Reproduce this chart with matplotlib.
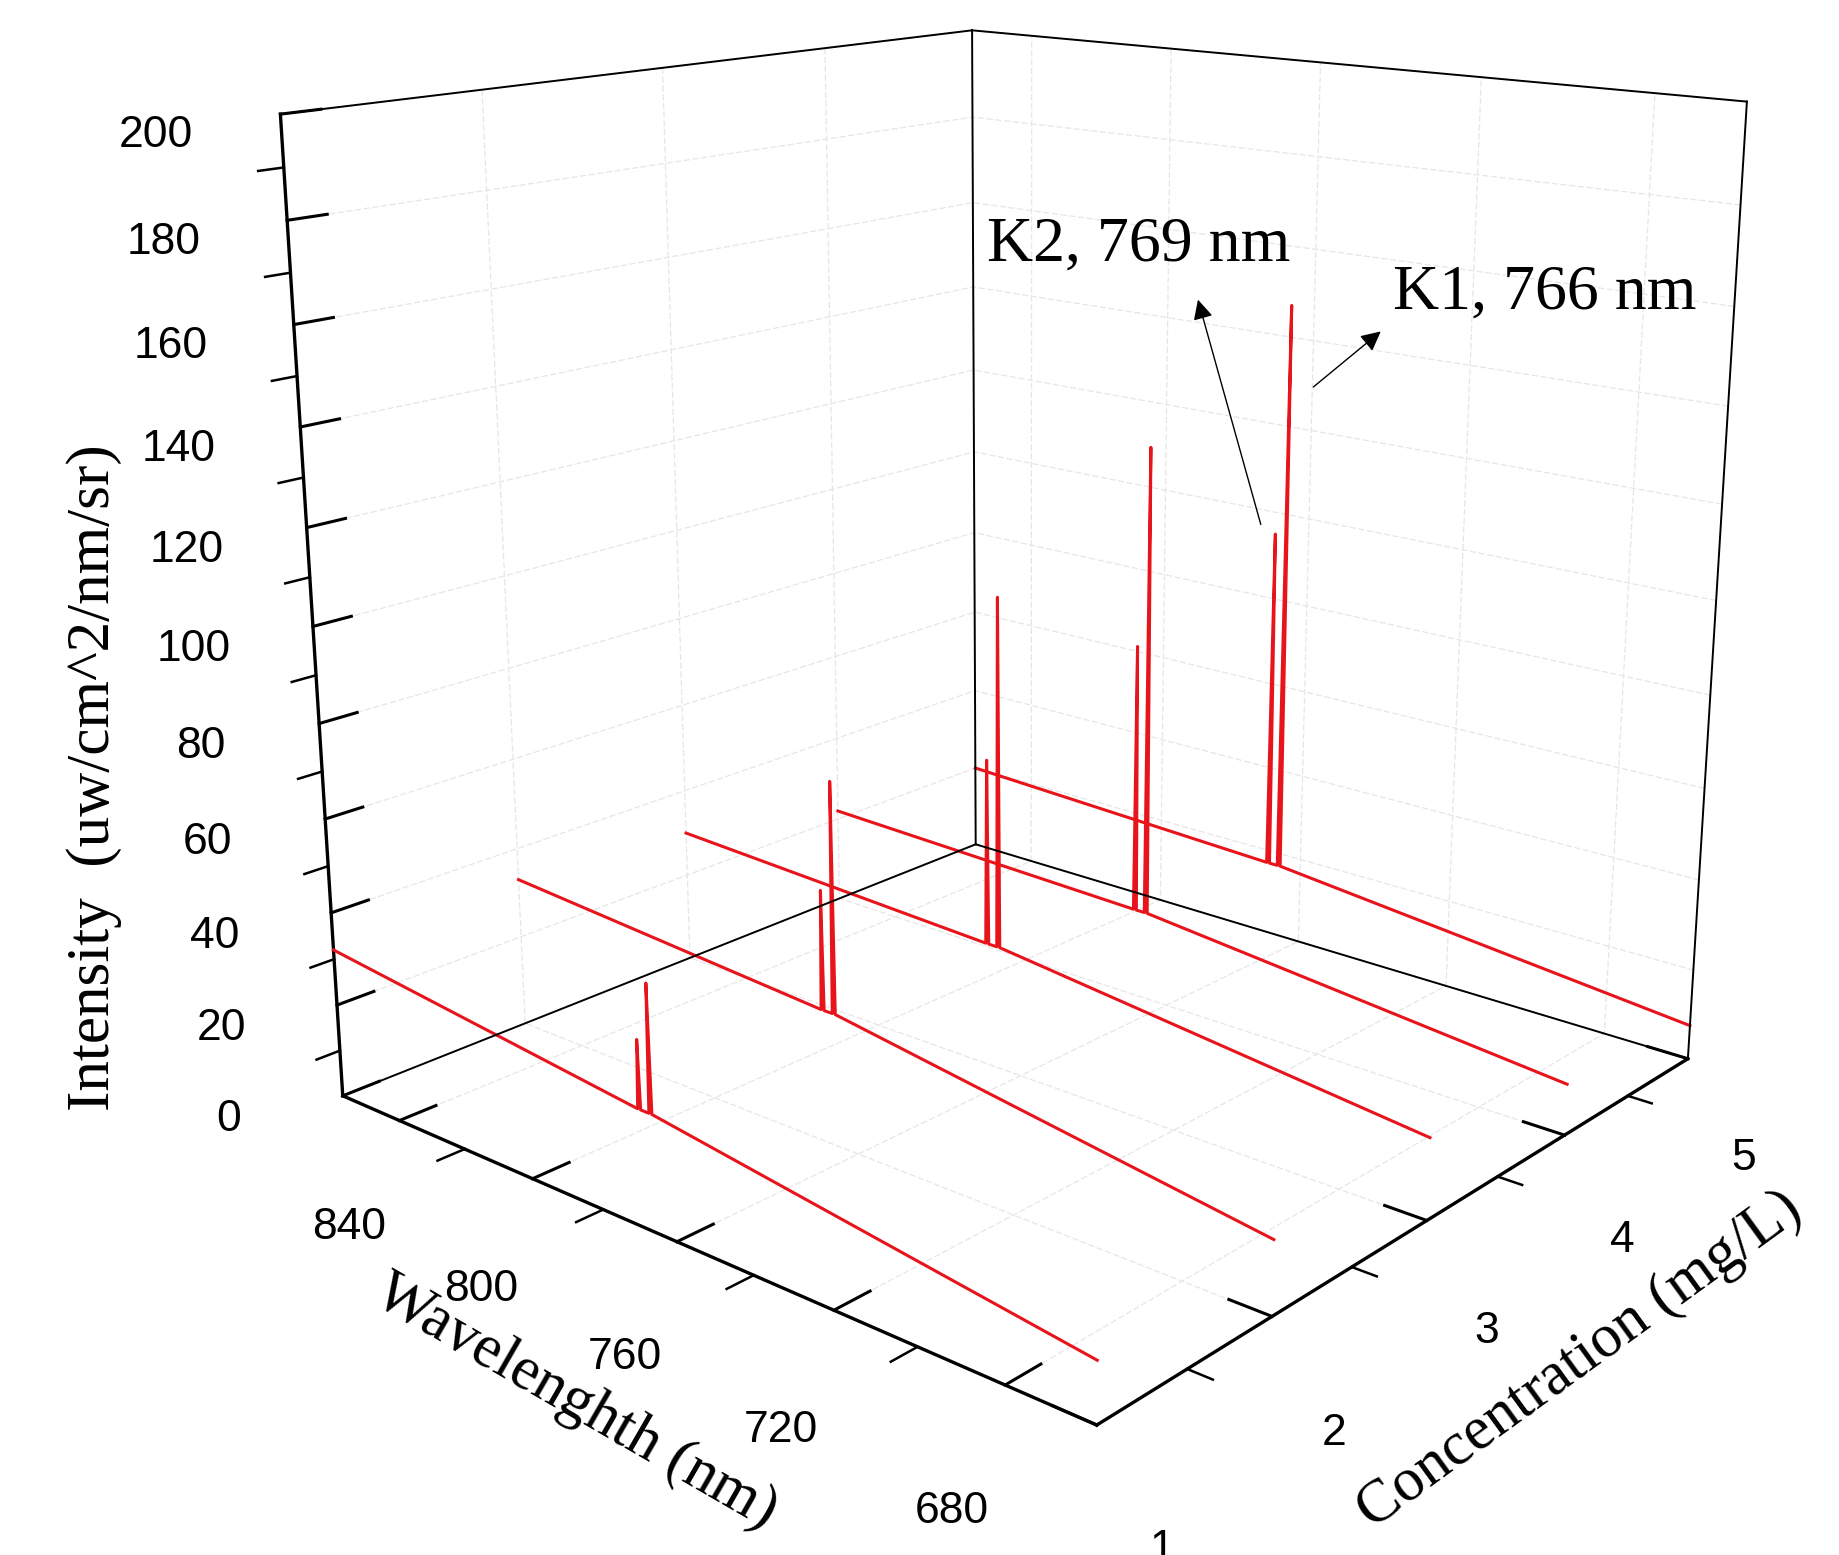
import numpy as np
import matplotlib
matplotlib.use("Agg")
from matplotlib import pyplot as plt

# spectra: wavelength points (nm) and intensity per concentration
wavelength = [858, 769.4, 769.0, 768.6, 766.4, 766.0, 765.6, 660]
conc = [1, 2, 3, 4, 5]
inten_c1 = [32, 24, 38, 24, 24, 50, 24, 12]
inten_c2 = [33, 28, 53, 28, 28, 76, 28, 15]
inten_c3 = [30, 27, 67, 27, 27, 102, 27, 17]
inten_c4 = [22, 20, 80, 20, 20, 124, 20, 11]
inten_c5 = [20, 17, 95, 17, 17, 147, 17, 7.5]
spectra = [inten_c1, inten_c2, inten_c3, inten_c4, inten_c5]

wl_ticks = [840, 800, 760, 720, 680]
wl_minor = [820, 780, 740, 700]
conc_ticks = [1, 2, 3, 4, 5]
conc_minor = [1.5, 2.5, 3.5, 4.5]
int_ticks = list(range(0, 201, 20))
int_minor = list(range(10, 200, 20))

wl_lo, wl_hi = 660, 858
c_lo, c_hi = 1, 5
z_lo, z_hi = 0, 200

serif = ["Liberation Serif", "DejaVu Serif"]
sans = ["Liberation Sans", "DejaVu Sans"]

fig = plt.figure(figsize=(18.39, 15.55), dpi=100)
ax = fig.add_axes([0.0881, 0.0511, 0.9130, 1.0798], projection="3d")
ax.set_proj_type("persp", focal_length=0.3578)

for c, s in zip(conc, spectra):
    ax.plot(wavelength, [c] * len(wavelength), s, color="#e8141c", lw=2.2)

# box outline of the back walls (drawn over the grid)
k = dict(color="black", lw=1.4)
ax.plot([wl_hi, wl_hi], [c_lo, c_hi], [z_hi, z_hi], **k)
ax.plot([wl_hi, wl_lo], [c_hi, c_hi], [z_hi, z_hi], **k)
ax.plot([wl_hi, wl_hi], [c_hi, c_hi], [z_lo, z_hi], **k)
ax.plot([wl_lo, wl_lo], [c_hi, c_hi], [z_lo, z_hi], **k)
ax.plot([wl_hi, wl_hi], [c_lo, c_hi], [z_lo, z_lo], **k)
ax.plot([wl_hi, wl_lo], [c_hi, c_hi], [z_lo, z_lo], **k)

# minor ticks
m = dict(color="black", lw=1.8)
for w in wl_minor:
    ax.plot([w, w], [c_lo, c_lo - 0.14], [0, 0], **m)
for c in conc_minor:
    ax.plot([wl_lo, wl_lo - 5.5], [c, c], [0, 0], **m)
for z in int_minor:
    ax.plot([wl_hi, wl_hi], [c_lo, c_lo - 0.12], [z, z], **m)

ax.set_xlim(wl_hi, wl_lo)
ax.set_ylim(c_lo, c_hi)
ax.set_zlim(z_lo, z_hi)
ax.set_box_aspect((1.0203, 1.0, 1.0234), zoom=1.0)
ax.view_init(elev=16.156, azim=-49.375)

ax.set_xticks(wl_ticks)
ax.set_yticks(conc_ticks)
ax.set_zticks(int_ticks)
ax.zaxis.set_ticks_position("lower")

for axis in (ax.xaxis, ax.yaxis, ax.zaxis):
    axis.set_pane_color((1, 1, 1, 1))
    axis.pane.set_edgecolor("none")
    axis.line.set_color("black")
    axis.line.set_linewidth(2.4)
    axis._axinfo["grid"]["color"] = "#e6e6e6"
    axis._axinfo["grid"]["linewidth"] = 0.9
    axis._axinfo["grid"]["linestyle"] = (0, (5, 2))
    axis._axinfo["tick"]["inward_factor"] = 0.0
    axis._axinfo["tick"]["outward_factor"] = 0.6
    axis._axinfo["tick"]["linewidth"] = {True: 2.2, False: 1.5}

ax.tick_params(axis="x", labelsize=32, pad=36)
ax.tick_params(axis="y", labelsize=32, pad=36)
ax.tick_params(axis="z", labelsize=32, pad=44)
for lab in ax.get_xticklabels() + ax.get_yticklabels() + ax.get_zticklabels():
    lab.set_family(sans)

fig.text(0.313, 0.098, "Wavelenghth (nm)", fontsize=44, family=serif,
         rotation=-30, ha="center", va="center", rotation_mode="anchor")
fig.text(0.859, 0.125, "Concentration (mg/L)", fontsize=44, family=serif,
         rotation=36, ha="center", va="center", rotation_mode="anchor")
fig.text(0.051, 0.50, "Intensity  (uw/cm^2/nm/sr)", fontsize=44, family=serif,
         rotation=90, ha="center", va="center")

# annotations for the two K lines
ax.annotate("", xy=(0.651, 0.809), xytext=(0.686, 0.661),
            xycoords="figure fraction", textcoords="figure fraction",
            arrowprops=dict(arrowstyle="-|>", color="black", lw=1.0, mutation_scale=30))
fig.text(0.619, 0.842, "K2, 769 nm", fontsize=46, family=serif, ha="center", va="center")
ax.annotate("", xy=(0.752, 0.788), xytext=(0.713, 0.750),
            xycoords="figure fraction", textcoords="figure fraction",
            arrowprops=dict(arrowstyle="-|>", color="black", lw=1.0, mutation_scale=30))
fig.text(0.840, 0.811, "K1, 766 nm", fontsize=46, family=serif, ha="center", va="center")

fig.savefig("out.png", dpi=100)
